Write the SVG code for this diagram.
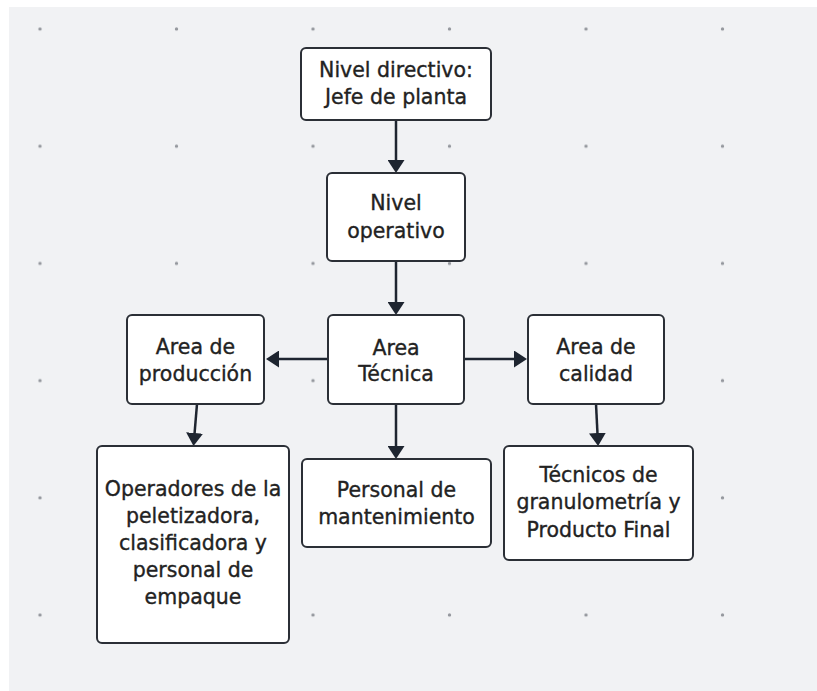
<svg xmlns="http://www.w3.org/2000/svg" width="817" height="691" viewBox="0 0 817 691">
  <defs>
    <style>
      .node rect { fill: #ffffff; stroke: #2b2f36; stroke-width: 2; }
      .node text { font-family: "DejaVu Sans", "Liberation Sans", sans-serif; font-size: 20.5px; fill: #222222; stroke: #222222; stroke-width: 0.35; text-anchor: middle; }
      .edge { stroke: #1e2530; stroke-width: 2.5; fill: none; marker-end: url(#head); }
    </style>
    <marker id="head" markerUnits="userSpaceOnUse" markerWidth="16" markerHeight="17" refX="1" refY="8.5" orient="auto">
      <path d="M0,0 L13,8.5 L0,17 Z" fill="#1e2530"/>
    </marker>
    <pattern id="grid" patternUnits="userSpaceOnUse" x="-28.25" y="-29.5" width="136.5" height="117.2">
      <circle cx="68.25" cy="58.5" r="1.7" fill="#94979d"/>
    </pattern>
  </defs>

  <!-- canvas -->
  <rect x="0" y="0" width="817" height="691" fill="#ffffff"/>
  <rect x="9" y="7" width="808" height="684" fill="#f1f2f4"/>
  <rect x="9" y="7" width="808" height="684" fill="url(#grid)"/>

  <!-- connectors -->
  <g id="connectors">
    <line class="edge" x1="396" y1="120" x2="396" y2="161"/>
    <line class="edge" x1="396" y1="261" x2="396" y2="303"/>
    <line class="edge" x1="328" y1="359" x2="278" y2="359"/>
    <line class="edge" x1="464" y1="359" x2="515" y2="359"/>
    <line class="edge" x1="197" y1="404" x2="194.5" y2="434"/>
    <line class="edge" x1="396" y1="404" x2="396" y2="447"/>
    <line class="edge" x1="596" y1="404" x2="597.5" y2="434"/>
  </g>

  <!-- nodes -->
  <g id="jefe" class="node">
    <rect x="301" y="48" width="190" height="72" rx="5"/>
    <text x="396" y="77">Nivel directivo:</text>
    <text x="396" y="104">Jefe de planta</text>
  </g>
  <g id="operativo" class="node">
    <rect x="327" y="173" width="138" height="88" rx="5"/>
    <text x="396" y="210">Nivel</text>
    <text x="396" y="238">operativo</text>
  </g>
  <g id="tecnica" class="node">
    <rect x="328" y="315" width="136" height="89" rx="5"/>
    <text x="396" y="355">Area</text>
    <text x="396" y="381">Técnica</text>
  </g>
  <g id="produccion" class="node">
    <rect x="127" y="315" width="137" height="89" rx="5"/>
    <text x="195.5" y="354">Area de</text>
    <text x="195.5" y="381">producción</text>
  </g>
  <g id="calidad" class="node">
    <rect x="528" y="315" width="136" height="89" rx="5"/>
    <text x="596" y="354">Area de</text>
    <text x="596" y="381">calidad</text>
  </g>
  <g id="operadores" class="node">
    <rect x="97" y="446" width="192" height="197" rx="5"/>
    <text x="193" y="496">Operadores de la</text>
    <text x="193" y="523">peletizadora,</text>
    <text x="193" y="550">clasificadora y</text>
    <text x="193" y="577">personal de</text>
    <text x="193" y="604">empaque</text>
  </g>
  <g id="mantenimiento" class="node">
    <rect x="302" y="459" width="189" height="88" rx="5"/>
    <text x="396.5" y="497">Personal de</text>
    <text x="396.5" y="524">mantenimiento</text>
  </g>
  <g id="granulometria" class="node">
    <rect x="504" y="446" width="189" height="114" rx="5"/>
    <text x="598.5" y="482">Técnicos de</text>
    <text x="598.5" y="509">granulometría y</text>
    <text x="598.5" y="537">Producto Final</text>
  </g>
</svg>
